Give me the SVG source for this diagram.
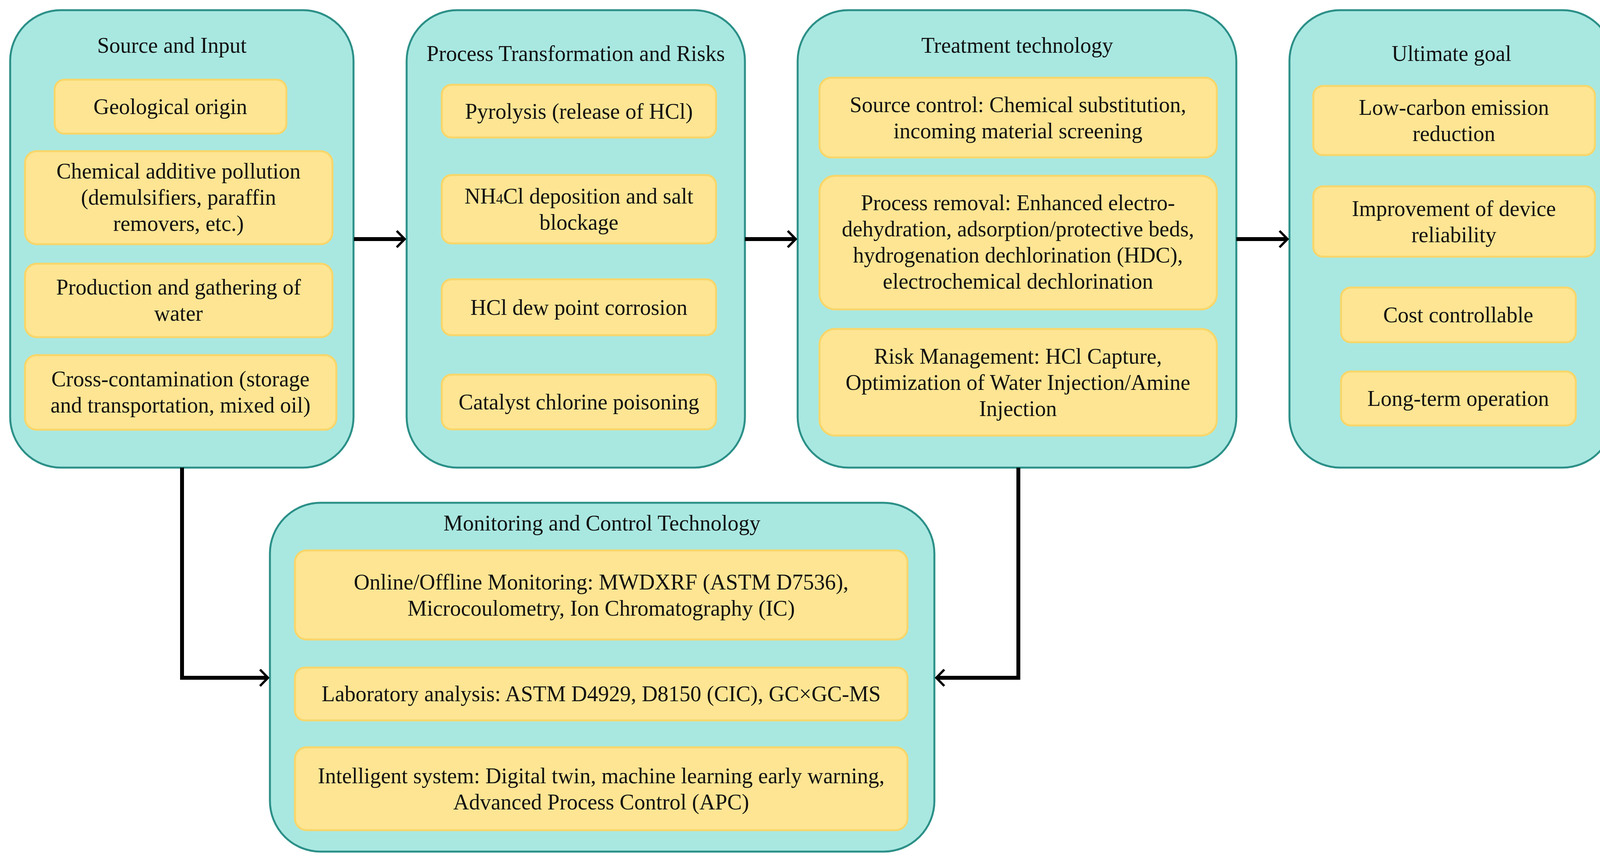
<svg xmlns="http://www.w3.org/2000/svg" width="4154" height="2204" viewBox="0 0 4154 2204">
<style>
.outer{fill:#a9e8e1;stroke:#2c9088;stroke-width:5}
.item{fill:#fde593;stroke:#f8d66a;stroke-width:5}
text{font-family:"Liberation Serif","Times New Roman",serif;font-size:56px;fill:#111;text-anchor:middle}
.conn{fill:none;stroke:#000;stroke-width:10}
</style>
<defs>
<marker id="ah" viewBox="0 0 10 10" refX="9" refY="5" markerWidth="6" markerHeight="6" markerUnits="userSpaceOnUse" orient="auto" overflow="visible">
<path d="M-25,-30 L9,5 L-25,40" fill="none" stroke="#000" stroke-width="10" stroke-linejoin="miter"/>
</marker>
</defs>
<rect width="4154" height="2204" fill="#fff"/>
<g id="source">
<rect class="outer" x="26" y="26" width="879" height="1171" rx="130"/>
<text x="440" y="135">Source and Input</text>
<rect class="item" x="140" y="204" width="593" height="138" rx="25"/>
<text x="436" y="292">Geological origin</text>
<rect class="item" x="64" y="387" width="787" height="238" rx="30"/>
<text x="457" y="457">Chemical additive pollution</text>
<text x="457" y="524">(demulsifiers, paraffin</text>
<text x="457" y="591">removers, etc.)</text>
<rect class="item" x="64" y="675" width="787" height="188" rx="30"/>
<text x="457" y="754">Production and gathering of</text>
<text x="457" y="821">water</text>
<rect class="item" x="64" y="909" width="797" height="191" rx="30"/>
<text x="462" y="989">Cross-contamination (storage</text>
<text x="462" y="1056">and transportation, mixed oil)</text>
</g>
<g id="process">
<rect class="outer" x="1041" y="26" width="866" height="1171" rx="130"/>
<text x="1474" y="156">Process Transformation and Risks</text>
<rect class="item" x="1131" y="217" width="702" height="135" rx="25"/>
<text x="1482" y="304">Pyrolysis (release of HCl)</text>
<rect class="item" x="1131" y="448" width="702" height="175" rx="25"/>
<text x="1482" y="521">NH<tspan font-size="36">4</tspan>Cl deposition and salt</text>
<text x="1482" y="588">blockage</text>
<rect class="item" x="1131" y="715" width="702" height="143" rx="25"/>
<text x="1482" y="806">HCl dew point corrosion</text>
<rect class="item" x="1131" y="959" width="702" height="140" rx="25"/>
<text x="1482" y="1048">Catalyst chlorine poisoning</text>
</g>
<g id="treatment">
<rect class="outer" x="2042" y="26" width="1123" height="1171" rx="130"/>
<text x="2604" y="135">Treatment technology</text>
<rect class="item" x="2098" y="199" width="1017" height="204" rx="30"/>
<text x="2606" y="287">Source control: Chemical substitution,</text>
<text x="2606" y="354">incoming material screening</text>
<rect class="item" x="2098" y="450" width="1017" height="342" rx="40"/>
<text x="2606" y="538">Process removal: Enhanced electro-</text>
<text x="2606" y="605">dehydration, adsorption/protective beds,</text>
<text x="2606" y="672">hydrogenation dechlorination (HDC),</text>
<text x="2606" y="739">electrochemical dechlorination</text>
<rect class="item" x="2098" y="842" width="1017" height="273" rx="40"/>
<text x="2606" y="931">Risk Management: HCl Capture,</text>
<text x="2606" y="998">Optimization of Water Injection/Amine</text>
<text x="2606" y="1065">Injection</text>
</g>
<g id="goal">
<rect class="outer" x="3301" y="26" width="829" height="1171" rx="130"/>
<text x="3716" y="156">Ultimate goal</text>
<rect class="item" x="3362" y="220" width="721" height="177" rx="25"/>
<text x="3722" y="294">Low-carbon emission</text>
<text x="3722" y="361">reduction</text>
<rect class="item" x="3362" y="477" width="721" height="180" rx="25"/>
<text x="3722" y="553">Improvement of device</text>
<text x="3722" y="620">reliability</text>
<rect class="item" x="3433" y="736" width="601" height="140" rx="25"/>
<text x="3733" y="825">Cost controllable</text>
<rect class="item" x="3433" y="951" width="601" height="138" rx="25"/>
<text x="3733" y="1039">Long-term operation</text>
</g>
<g id="monitoring">
<rect class="outer" x="691" y="1287" width="1701" height="893" rx="130"/>
<text x="1541" y="1358">Monitoring and Control Technology</text>
<rect class="item" x="755" y="1409" width="1568" height="228" rx="30"/>
<text x="1539" y="1509">Online/Offline Monitoring: MWDXRF (ASTM D7536),</text>
<text x="1539" y="1576">Microcoulometry, Ion Chromatography (IC)</text>
<rect class="item" x="755" y="1709" width="1568" height="135" rx="25"/>
<text x="1539" y="1795">Laboratory analysis: ASTM D4929, D8150 (CIC), GC×GC-MS</text>
<rect class="item" x="755" y="1913" width="1568" height="212" rx="30"/>
<text x="1539" y="2005">Intelligent system: Digital twin, machine learning early warning,</text>
<text x="1539" y="2072">Advanced Process Control (APC)</text>
</g>
<g id="connectors">
<path class="conn" d="M906,612 H1036" marker-end="url(#ah)"/>
<path class="conn" d="M1907,612 H2037" marker-end="url(#ah)"/>
<path class="conn" d="M3165,612 H3296" marker-end="url(#ah)"/>
<path class="conn" d="M466,1197 V1735 H686" marker-end="url(#ah)"/>
<path class="conn" d="M2607,1197 V1735 H2397" marker-end="url(#ah)"/>
</g>
</svg>
